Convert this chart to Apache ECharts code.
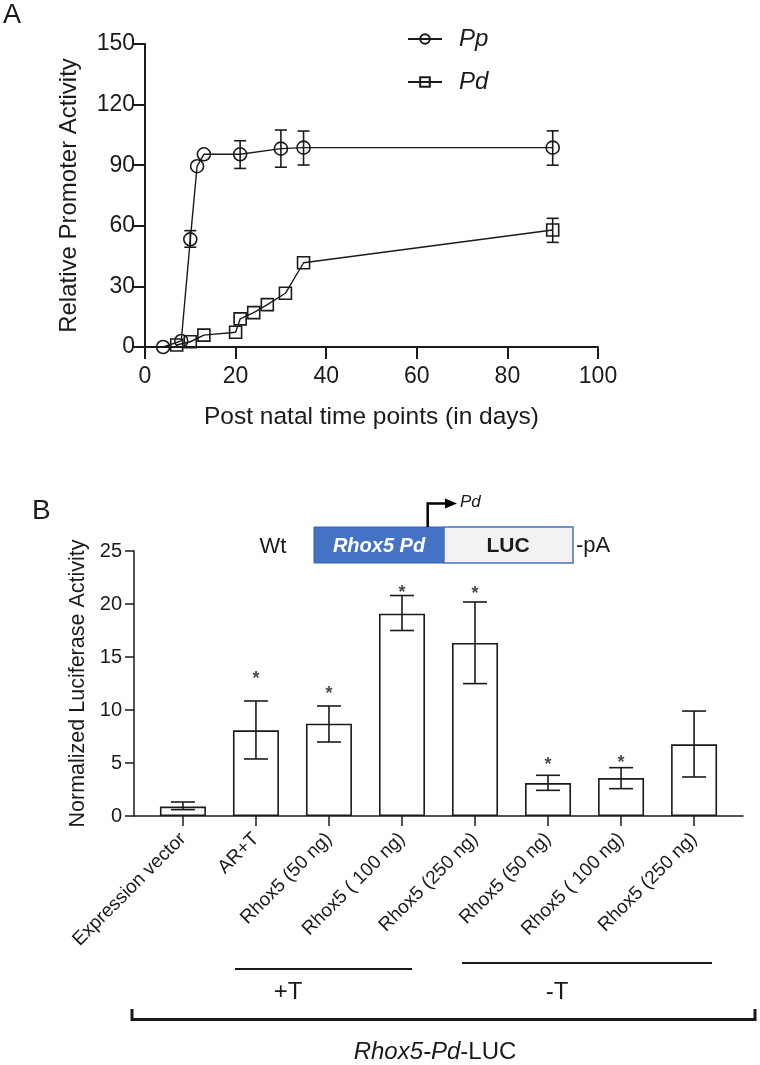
<!DOCTYPE html>
<html><head><meta charset="utf-8">
<script src="https://cdn.jsdelivr.net/npm/echarts@6/dist/echarts.min.js"></script>
<style>html,body{margin:0;padding:0;background:#fff}#c{width:760px;height:1065px}</style>
</head><body><div id="c"></div>
<script>
// ---- Panel A data ----
const ppDays = [4, 8, 10, 11.5, 13, 21, 30, 35, 90];
const ppMean = [0, 3, 53.3, 89.5, 95.4, 95.4, 98.2, 98.7, 98.7];
const ppLow  = [0, 3, 49.4, 89.5, 95.4, 88.4, 89.0, 90.1, 90.0];
const ppHigh = [0, 3, 57.6, 89.5, 95.4, 102.1, 107.4, 106.9, 107.0];
const pdDays = [7, 10, 13, 20, 21, 24, 27, 31, 35, 90];
const pdMean = [1, 2.6, 5.9, 7.3, 13.9, 17, 21, 26.6, 41.7, 57.9];
const pdLow  = [1, 2.6, 5.9, 7.3, 13.9, 17, 21, 26.6, 41.7, 51.8];
const pdHigh = [1, 2.6, 5.9, 7.3, 13.9, 17, 21, 26.6, 41.7, 63.7];
// ---- Panel B data ----
const categories = ['Expression vector', 'AR+T', 'Rhox5 (50 ng)', 'Rhox5 ( 100 ng)', 'Rhox5 (250 ng)', 'Rhox5 (50 ng)', 'Rhox5 ( 100 ng)', 'Rhox5 (250 ng)'];
const lucMean = [0.89, 8.08, 8.71, 19.09, 16.32, 3.11, 3.58, 6.76];
const lucLow  = [0.60, 5.38, 6.98, 17.50, 12.49, 2.42, 2.58, 3.68];
const lucHigh = [1.32, 10.85, 10.38, 20.80, 20.19, 3.84, 4.56, 9.90];
const starLevel = [null, 13.4, 12.0, 21.5, 21.4, 5.3, 5.45, null];

const FONT = 'Liberation Sans, Arial, Helvetica, sans-serif';
const INK = '#1a1a1a';

function errRenderer(halfCap, lw) {
  return function (params, api) {
    const x = api.value(0), lo = api.value(1), hi = api.value(2);
    if (hi - lo <= 0) return null;
    const a = api.coord([x, hi]);
    const b = api.coord([x, lo]);
    const st = { stroke: INK, lineWidth: lw };
    return {
      type: 'group',
      children: [
        { type: 'line', shape: { x1: a[0], y1: a[1], x2: b[0], y2: b[1] }, style: st },
        { type: 'line', shape: { x1: a[0] - halfCap, y1: a[1], x2: a[0] + halfCap, y2: a[1] }, style: st },
        { type: 'line', shape: { x1: b[0] - halfCap, y1: b[1], x2: b[0] + halfCap, y2: b[1] }, style: st }
      ]
    };
  };
}

const chart = echarts.init(document.getElementById('c'), null, { renderer: 'canvas' });

const option = {
  backgroundColor: '#fff',
  animation: false,
  textStyle: { fontFamily: FONT, color: INK },
  grid: [
    { left: 145, top: 44, width: 453, height: 303 },
    { left: 134, top: 551, width: 609, height: 265 }
  ],
  legend: {
    orient: 'vertical', left: 402, top: 22, itemWidth: 34, itemHeight: 12, itemGap: 19,
    textStyle: { fontFamily: FONT, fontStyle: 'italic', fontSize: 24, color: INK, padding: [0, 0, 0, 12] },
    data: ['Pp', 'Pd']
  },
  xAxis: [
    {
      gridIndex: 0, type: 'value', min: 0, max: 100, interval: 20,
      name: 'Post natal time points (in days)', nameLocation: 'middle', nameGap: 58,
      nameTextStyle: { fontSize: 24.5, color: INK, fontFamily: FONT },
      axisLine: { lineStyle: { color: INK, width: 2 } },
      axisTick: { show: true, length: 12, lineStyle: { color: INK, width: 2 } },
      axisLabel: { fontSize: 23, color: INK, margin: 18, fontFamily: FONT },
      splitLine: { show: false }
    },
    {
      gridIndex: 1, type: 'value', min: -0.67, max: 7.67,
      axisLine: { lineStyle: { color: INK, width: 1.5 } },
      axisTick: { show: true, length: 10, customValues: [0, 1, 2, 3, 4, 5, 6, 7], lineStyle: { color: INK, width: 1.5 } },
      axisLabel: {
        customValues: [0, 1, 2, 3, 4, 5, 6, 7], rotate: 45, margin: 20, fontSize: 19, color: INK, fontFamily: FONT,
        formatter: function (v) { const i = Math.round(v); return categories[i] || ''; }
      },
      splitLine: { show: false }
    }
  ],
  yAxis: [
    {
      gridIndex: 0, type: 'value', min: 0, max: 150, interval: 30,
      name: 'Relative Promoter Activity', nameLocation: 'middle', nameGap: 64, nameRotate: 90,
      nameTextStyle: { fontSize: 24, color: INK, fontFamily: FONT },
      axisLine: { show: true, onZero: false, lineStyle: { color: INK, width: 2 } },
      axisTick: { show: true, length: 12, lineStyle: { color: INK, width: 2 } },
      axisLabel: { fontSize: 23, color: INK, margin: 10, fontFamily: FONT },
      splitLine: { show: false }
    },
    {
      gridIndex: 1, type: 'value', min: 0, max: 25, interval: 5,
      name: 'Normalized Luciferase Activity', nameLocation: 'middle', nameGap: 39, nameRotate: 90,
      nameTextStyle: { fontSize: 21.5, color: INK, fontFamily: FONT },
      axisLine: { show: true, onZero: false, lineStyle: { color: INK, width: 1.5 } },
      axisTick: { show: true, length: 9, lineStyle: { color: INK, width: 1.5 } },
      axisLabel: { fontSize: 20, color: INK, margin: 12, fontFamily: FONT },
      splitLine: { show: false }
    }
  ],
  series: [
    {
      type: 'custom', xAxisIndex: 0, yAxisIndex: 0, silent: true, z: 2,
      renderItem: errRenderer(6, 1.6),
      data: ppDays.map((d, i) => [d, ppLow[i], ppHigh[i]])
    },
    {
      type: 'custom', xAxisIndex: 0, yAxisIndex: 0, silent: true, z: 2,
      renderItem: errRenderer(6, 1.6),
      data: pdDays.map((d, i) => [d, pdLow[i], pdHigh[i]])
    },
    {
      name: 'Pp', type: 'line', xAxisIndex: 0, yAxisIndex: 0, z: 3,
      symbol: 'circle', symbolSize: 13, showAllSymbol: true,
      lineStyle: { color: INK, width: 1.4 },
      itemStyle: { color: 'rgba(255,255,255,0)', borderColor: INK, borderWidth: 1.6 },
      data: ppDays.map((d, i) => [d, ppMean[i]])
    },
    {
      name: 'Pd', type: 'line', xAxisIndex: 0, yAxisIndex: 0, z: 3,
      symbol: 'rect', symbolSize: 12, showAllSymbol: true,
      lineStyle: { color: INK, width: 1.4 },
      itemStyle: { color: 'rgba(255,255,255,0)', borderColor: INK, borderWidth: 1.6 },
      data: pdDays.map((d, i) => [d, pdMean[i]])
    },
    {
      type: 'bar', xAxisIndex: 1, yAxisIndex: 1, barWidth: 46, z: 2,
      itemStyle: { color: '#fff', borderColor: INK, borderWidth: 1.6 },
      data: lucMean.map((v, i) => [i, v])
    },
    {
      type: 'custom', xAxisIndex: 1, yAxisIndex: 1, silent: true, z: 3,
      renderItem: errRenderer(12, 1.6),
      data: lucMean.map((v, i) => [i, lucLow[i], lucHigh[i]])
    },
    {
      type: 'scatter', xAxisIndex: 1, yAxisIndex: 1, symbolSize: 1, z: 4,
      itemStyle: { color: 'rgba(0,0,0,0)' },
      label: { show: true, position: 'inside', formatter: '*', fontSize: 18, fontWeight: 'bold', color: INK, offset: [0, 5], fontFamily: FONT },
      data: starLevel.map((v, i) => v === null ? null : [i, v]).filter(d => d !== null)
    }
  ],
  graphic: [
    { type: 'text', left: 3, top: 2, style: { text: 'A', font: '27px ' + FONT, fill: INK } },
    { type: 'text', left: 32, top: 497, style: { text: 'B', font: '28px ' + FONT, fill: INK } },
    // construct diagram
    { type: 'text', x: 273, y: 547, style: { text: 'Wt', font: '22px ' + FONT, fill: INK, align: 'center', verticalAlign: 'middle' } },
    { type: 'rect', shape: { x: 314, y: 527, width: 130, height: 36 }, style: { fill: '#4472c4', stroke: '#3b63ad', lineWidth: 1 } },
    { type: 'text', x: 379, y: 546, style: { text: 'Rhox5 Pd', font: 'italic bold 20px ' + FONT, fill: '#fff', align: 'center', verticalAlign: 'middle' } },
    { type: 'rect', shape: { x: 444, y: 527, width: 129, height: 36 }, style: { fill: '#f2f2f2', stroke: '#4472c4', lineWidth: 1.5 } },
    { type: 'text', x: 508, y: 546, style: { text: 'LUC', font: 'bold 21px ' + FONT, fill: INK, align: 'center', verticalAlign: 'middle' } },
    { type: 'text', x: 576, y: 546, style: { text: '-pA', font: '22px ' + FONT, fill: INK, align: 'left', verticalAlign: 'middle' } },
    { type: 'polyline', shape: { points: [[427.7, 527], [427.7, 503.5], [447, 503.5]] }, style: { stroke: '#000', lineWidth: 2.5, fill: null } },
    { type: 'polygon', shape: { points: [[445, 498.5], [457, 503.5], [445, 508.5]] }, style: { fill: '#000' } },
    { type: 'text', x: 460, y: 502, style: { text: 'Pd', font: 'italic 17px ' + FONT, fill: INK, align: 'left', verticalAlign: 'middle' } },
    // group annotations
    { type: 'line', shape: { x1: 235, y1: 969, x2: 412, y2: 969 }, style: { stroke: INK, lineWidth: 2 } },
    { type: 'text', x: 288, y: 992, style: { text: '+T', font: '24px ' + FONT, fill: INK, align: 'center', verticalAlign: 'middle' } },
    { type: 'line', shape: { x1: 462, y1: 963, x2: 712, y2: 963 }, style: { stroke: INK, lineWidth: 2 } },
    { type: 'text', x: 557, y: 992, style: { text: '-T', font: '24px ' + FONT, fill: INK, align: 'center', verticalAlign: 'middle' } },
    { type: 'polyline', shape: { points: [[132, 1009], [132, 1019.5], [755, 1019.5], [755, 1009]] }, style: { stroke: INK, lineWidth: 3, fill: null } },
    { type: 'text', x: 435, y: 1052, style: {
        text: '{i|Rhox5-Pd}{n|-LUC}', align: 'center', verticalAlign: 'middle',
        rich: { i: { font: 'italic 24px ' + FONT, fill: INK }, n: { font: '24px ' + FONT, fill: INK } }
      } }
  ]
};
chart.setOption(option);
</script>
</body></html>
